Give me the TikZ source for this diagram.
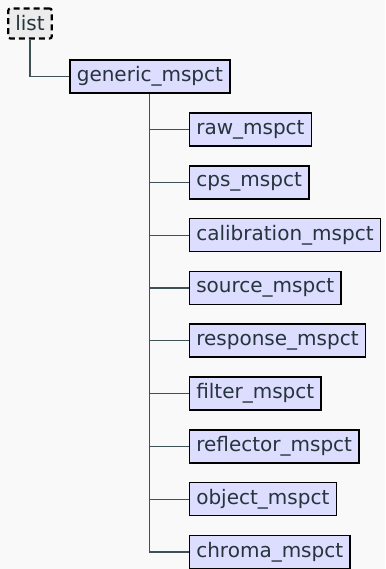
\documentclass[tikz,border=0pt]{standalone}
\usepackage{fontspec}
\setmainfont{DejaVu Sans}
\usetikzlibrary{positioning}
\definecolor{clsfill}{RGB}{221,221,255}
\definecolor{clstext}{RGB}{38,52,60}
\definecolor{linkcol}{RGB}{62,82,86}
\definecolor{bgcol}{RGB}{249,249,249}
\definecolor{listfill}{RGB}{236,236,236}

\begin{document}
\begin{tikzpicture}[
  cls/.style={draw=black, line width=1.6pt, fill=clsfill, text=clstext,
              inner xsep=7pt, inner ysep=0pt, minimum height=33pt,
              font=\fontsize{20}{24}\selectfont},
  listbox/.style={cls, fill=listfill, minimum height=30pt,
                  line width=2.2pt, dash pattern=on 6pt off 4pt,
                  rounded corners=2pt},
  link/.style={draw=linkcol, line width=1.2pt}
]
\fill[bgcol] (0,0) rectangle (385pt,-569pt);
\useasboundingbox (0,0) rectangle (385pt,-569pt);

\node[listbox] (list) at (30pt,-23.5pt) {list};
\node[cls, anchor=west] (generic) at (69pt,-76.5pt) {generic\_mspct};
\node[cls, anchor=west] (raw) at (188.5pt,-129.5pt) {raw\_mspct};
\node[cls, below=18.2pt of raw.south west, anchor=north west] (cps) {cps\_mspct};
\node[cls, below=18.2pt of cps.south west, anchor=north west] (calibration) {calibration\_mspct};
\node[cls, below=18.2pt of calibration.south west, anchor=north west] (source) {source\_mspct};
\node[cls, below=18.2pt of source.south west, anchor=north west] (response) {response\_mspct};
\node[cls, below=18.2pt of response.south west, anchor=north west] (filter) {filter\_mspct};
\node[cls, below=18.2pt of filter.south west, anchor=north west] (reflector) {reflector\_mspct};
\node[cls, below=18.2pt of reflector.south west, anchor=north west] (object) {object\_mspct};
\node[cls, below=18.2pt of object.south west, anchor=north west] (chroma) {chroma\_mspct};

\draw[link] (list.south) |- (generic.west);
\draw[link] (generic.south) |- (raw.west)
  (generic.south) |- (cps.west)
  (generic.south) |- (calibration.west)
  (generic.south) |- (source.west)
  (generic.south) |- (response.west)
  (generic.south) |- (filter.west)
  (generic.south) |- (reflector.west)
  (generic.south) |- (object.west)
  (generic.south) |- (chroma.west);
\end{tikzpicture}
\end{document}
